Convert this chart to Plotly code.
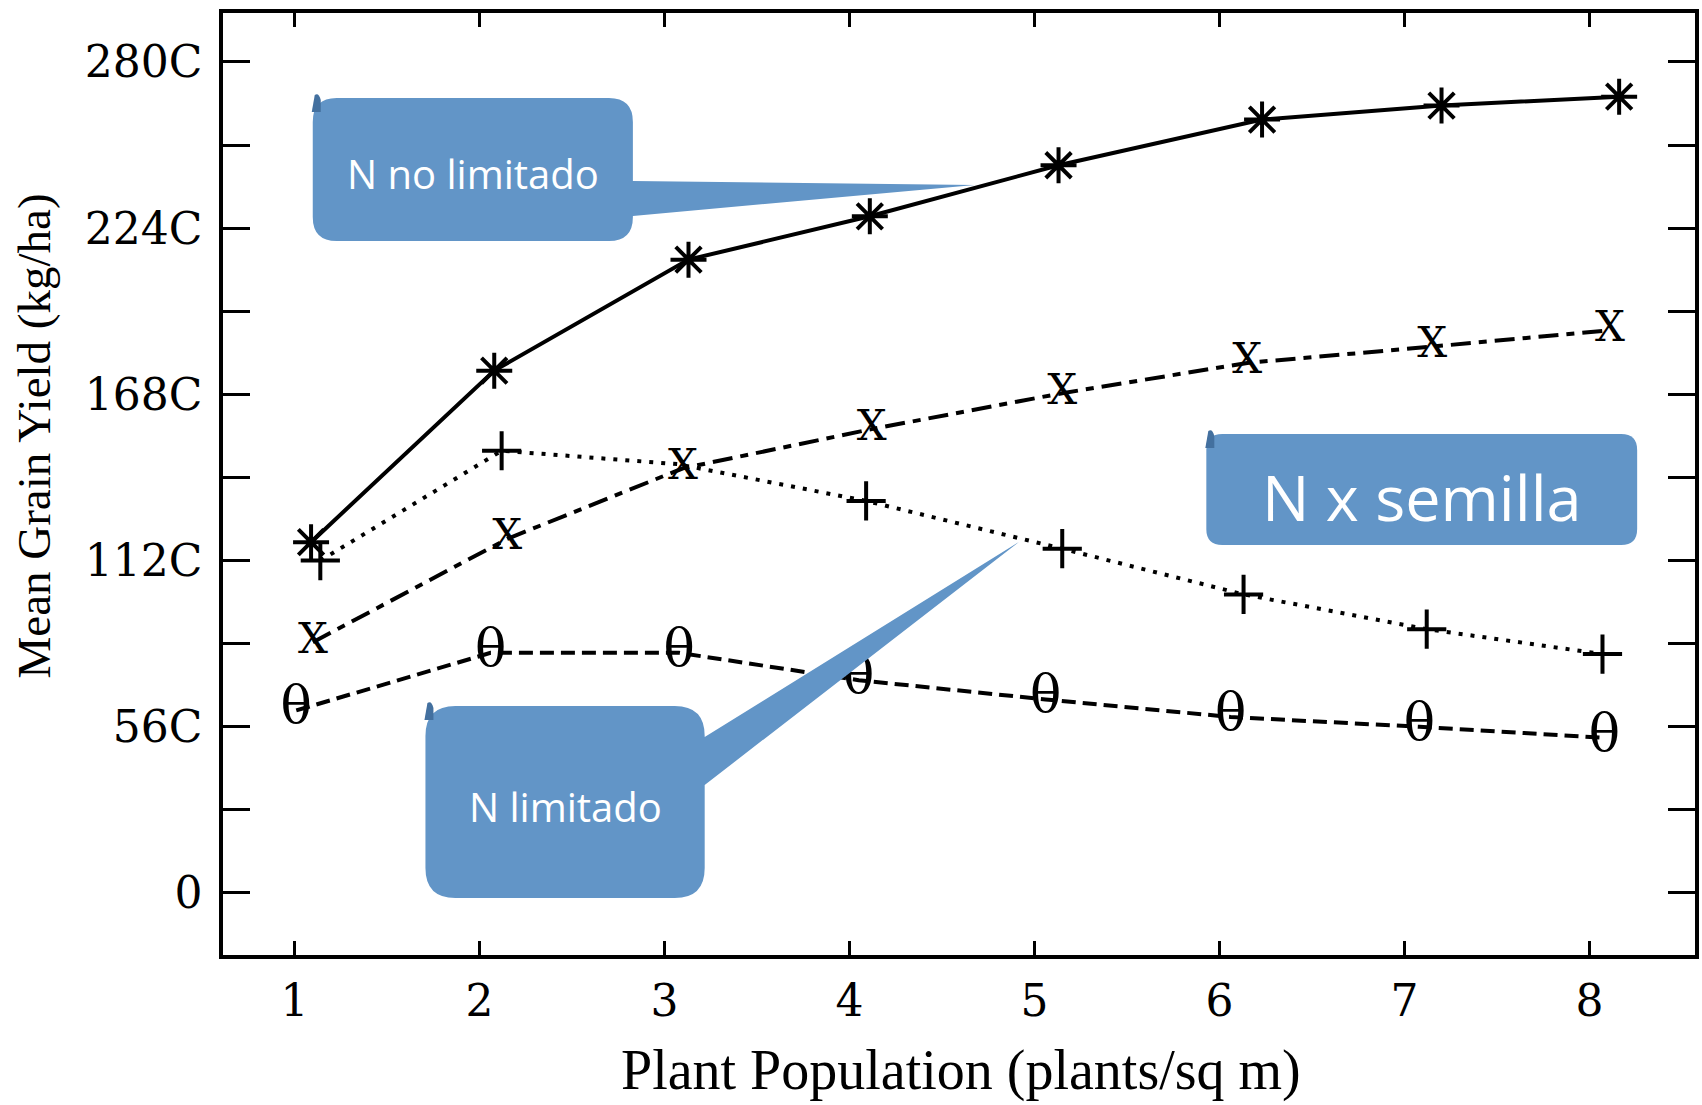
import plotly.graph_objects as go

# ---------------- data ----------------
no_lim_x = [1.09, 2.08, 3.13, 4.11, 5.13, 6.23, 7.20, 8.16]
no_lim_y = [1182, 1760, 2134, 2280, 2452, 2606, 2653, 2683]

x_ser_x = [1.10, 2.15, 3.10, 4.12, 5.15, 6.15, 7.15, 8.11]
x_ser_y = [845, 1193, 1431, 1563, 1684, 1786, 1841, 1896]

plus_x = [1.14, 2.12, 3.07, 4.09, 5.15, 6.13, 7.12, 8.07]
plus_y = [1120, 1490, 1445, 1321, 1160, 1006, 889, 805]

lim_x = [1.01, 2.06, 3.08, 4.05, 5.06, 6.06, 7.08, 8.08]
lim_y = [615, 809, 809, 717, 652, 593, 560, 523]

x_ticks = [1, 2, 3, 4, 5, 6, 7, 8]
y_tickvals = [0, 560, 1120, 1680, 2240, 2800]
y_ticktext = ["0", "56C", "112C", "168C", "224C", "280C"]

x_title = "Plant Population (plants/sq m)"
y_title = "Mean Grain Yield (kg/ha)"
callout_texts = ["N no limitado", "N limitado", "N x semilla"]

# ---------------- layout geometry (pixels) ----------------
L, R, T, B = 223, 1699, 13, 955
W, H = R - L, B - T


def px(x):
    return (x - L) / W


def py(y):
    return (B - y) / H


def rounded_box(x0, y0, x1, y1, r, tail=None):
    """SVG path (paper coords) of a rounded rectangle; optional tail on right edge:
    tail=(ya, yb, tipx, tipy)."""
    pts = []
    pts.append(f"M{px(x0 + r)},{py(y0)}")
    pts.append(f"L{px(x1 - r)},{py(y0)}")
    pts.append(f"Q{px(x1)},{py(y0)} {px(x1)},{py(y0 + r)}")
    if tail:
        ya, yb, tx, ty = tail
        pts.append(f"L{px(x1)},{py(ya)}")
        pts.append(f"L{px(tx)},{py(ty)}")
        pts.append(f"L{px(x1)},{py(yb)}")
    pts.append(f"L{px(x1)},{py(y1 - r)}")
    pts.append(f"Q{px(x1)},{py(y1)} {px(x1 - r)},{py(y1)}")
    pts.append(f"L{px(x0 + r)},{py(y1)}")
    pts.append(f"Q{px(x0)},{py(y1)} {px(x0)},{py(y1 - r)}")
    pts.append(f"L{px(x0)},{py(y0 + r)}")
    pts.append(f"Q{px(x0)},{py(y0)} {px(x0 + r)},{py(y0)}")
    pts.append("Z")
    return " ".join(pts)


def tab(x0, y0):
    return (f"M{px(x0 - 1)},{py(y0 + 14)} L{px(x0 + 2)},{py(y0 - 3)} "
            f"Q{px(x0 + 6)},{py(y0 - 6)} {px(x0 + 8)},{py(y0 + 2)} "
            f"L{px(x0 + 8)},{py(y0 + 14)} Z")


BLUE = "#6295C7"
DARK = "#43709F"

fig = go.Figure()

# dotted "+" series
fig.add_trace(go.Scatter(
    x=plus_x, y=plus_y, mode="lines+markers",
    line=dict(color="black", width=4, dash="4px,8px"),
    marker=dict(symbol="cross-thin", size=[28, 28, 0, 28, 28, 28, 28, 28],
                color="black", opacity=1, line=dict(color="black", width=4)),
    showlegend=False))

# long-dash "X" series
fig.add_trace(go.Scatter(
    x=x_ser_x, y=x_ser_y, mode="lines+text", text=["X"] * len(x_ser_x),
    textposition="middle center",
    textfont=dict(family="DejaVu Serif", size=42, color="black"),
    line=dict(color="black", width=4, dash="20px,8px,8px,8px"),
    showlegend=False))

# dashed "θ" series
fig.add_trace(go.Scatter(
    x=lim_x, y=lim_y, mode="lines+text", text=["θ"] * len(lim_x),
    textposition="middle center",
    textfont=dict(family="DejaVu Serif", size=52, color="black"),
    line=dict(color="black", width=4, dash="14px,7px"),
    showlegend=False))

# solid asterisk series
fig.add_trace(go.Scatter(
    x=no_lim_x, y=no_lim_y, mode="lines+markers",
    line=dict(color="black", width=4),
    marker=dict(symbol="asterisk-open", size=30, color="black",
                line=dict(color="black", width=4)),
    showlegend=False))

# ---------------- callouts ----------------
shapes = [
    dict(type="path", xref="paper", yref="paper", layer="above",
         path=rounded_box(313, 98, 634, 241, 24, tail=(181, 216, 977, 185)),
         fillcolor=BLUE, line=dict(width=0)),
    dict(type="path", xref="paper", yref="paper", layer="above",
         path=rounded_box(426, 706, 706, 898, 30, tail=(737, 785, 1021, 542)),
         fillcolor=BLUE, line=dict(width=0)),
    dict(type="path", xref="paper", yref="paper", layer="above",
         path=rounded_box(1209, 434, 1641, 545, 16),
         fillcolor=BLUE, line=dict(width=0)),
    dict(type="path", xref="paper", yref="paper", layer="above",
         path=tab(313, 98), fillcolor=DARK, line=dict(width=0)),
    dict(type="path", xref="paper", yref="paper", layer="above",
         path=tab(426, 706), fillcolor=DARK, line=dict(width=0)),
    dict(type="path", xref="paper", yref="paper", layer="above",
         path=tab(1209, 434), fillcolor=DARK, line=dict(width=0)),
]

annotations = [
    dict(text=callout_texts[0], x=px(474), y=py(174), xref="paper", yref="paper",
         xanchor="center", yanchor="middle",
         showarrow=False, font=dict(family="Open Sans", size=40, color="white")),
    dict(text=callout_texts[1], x=px(566), y=py(806), xref="paper", yref="paper",
         xanchor="center", yanchor="middle",
         showarrow=False, font=dict(family="Open Sans", size=40, color="white")),
    dict(text=callout_texts[2], x=px(1425), y=py(496), xref="paper", yref="paper",
         xanchor="center", yanchor="middle",
         showarrow=False, font=dict(family="Open Sans", size=63, color="white")),
    dict(text=y_title, x=px(33), y=py(436), xref="paper", yref="paper",
         xanchor="center", yanchor="middle", textangle=-90, showarrow=False,
         font=dict(family="Liberation Serif", size=47, color="black")),
    dict(text=x_title, x=px(963), y=py(1070), xref="paper", yref="paper",
         xanchor="center", yanchor="middle", showarrow=False,
         font=dict(family="Liberation Serif", size=56, color="black")),
]

fig.update_layout(
    width=1702, height=1105,
    margin=dict(l=L, r=1702 - R, t=T, b=1105 - B),
    paper_bgcolor="white", plot_bgcolor="white",
    shapes=shapes, annotations=annotations,
    xaxis=dict(
        range=[0.614, 8.57], tickmode="array", tickvals=x_ticks,
        ticktext=[str(v) for v in x_ticks],
        ticks="inside", ticklen=14, tickwidth=2.5, tickcolor="black",
        showline=True, linecolor="black", linewidth=3.5, mirror="ticks",
        showgrid=False, zeroline=False,
        tickfont=dict(family="DejaVu Serif", size=44, color="black"),
        ticklabelstandoff=4,
    ),
    yaxis=dict(
        range=[-209, 2965], tickmode="array", tickvals=y_tickvals, ticktext=y_ticktext,
        ticks="inside", ticklen=27, tickwidth=2.5, tickcolor="black",
        minor=dict(tickmode="linear", tick0=280, dtick=560, ticks="inside",
                   ticklen=27, tickwidth=2.5, tickcolor="black", showgrid=False),
        showline=True, linecolor="black", linewidth=3.5, mirror="ticks",
        showgrid=False, zeroline=False,
        tickfont=dict(family="DejaVu Serif", size=44, color="black"),
        ticklabelstandoff=8,
    ),
)

fig.write_html("out.html")
